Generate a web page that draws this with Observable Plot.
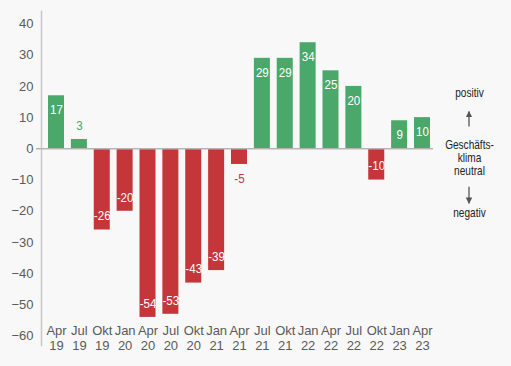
<!DOCTYPE html>
<html>
<head>
<meta charset="utf-8">
<script src="https://cdn.jsdelivr.net/npm/d3@7"></script>
<script src="https://cdn.jsdelivr.net/npm/@observablehq/plot@0.6"></script>
<style>
  html, body { margin: 0; padding: 0; background: #f8f8f8; }
  #chart svg { display: block; }
</style>
</head>
<body>
<div id="chart"></div>
<script>
const months = ["Apr","Jul","Okt","Jan","Apr","Jul","Okt","Jan","Apr","Jul","Okt","Jan","Apr","Jul","Okt","Jan","Apr"];
const years  = ["19","19","19","20","20","20","20","21","21","21","21","22","22","22","22","23","23"];
const values = [17, 3, -26, -20, -54, -53, -43, -39, -5, 29, 29, 34, 25, 20, -10, 9, 10];
const yTicks = [-60, -50, -40, -30, -20, -10, 0, 10, 20, 30, 40];

const GREEN = "#4aa86a";
const RED = "#c4363a";
const data = values.map((v, i) => ({
  key: i,
  label: months[i] + "\n" + years[i],
  value: v,
  inside: Math.abs(v) > 5
}));

const sans = "'Liberation Sans', Arial, sans-serif";
const annFont = { frameAnchor: "right", dx: 32, textAnchor: "middle", fill: "#222", fontFamily: sans, fontSize: 12 };
const lblFont = { fontFamily: sans, fontSize: 13.5 };

const plot = Plot.plot({
  width: 511,
  height: 366,
  marginLeft: 41,
  marginRight: 74,
  marginTop: 11,
  marginBottom: 21,
  style: { background: "#f8f8f8", fontFamily: sans, fontSize: "13px", color: "#5a5a5a" },
  x: { domain: data.map(d => d.key), paddingInner: 0.3, paddingOuter: 0.306, round: false, axis: null },
  y: { domain: [-63, 44], label: null },
  marks: [
    Plot.axisY({ ticks: yTicks, tickSize: 0, tickPadding: 8, fill: "#5a5a5a", fontSize: 13, label: null }),
    Plot.frame({ anchor: "left", stroke: "#c8c8c8", strokeWidth: 1.5 }),
    Plot.barY(data, { x: "key", y: "value", fill: d => d.value >= 0 ? GREEN : RED }),
    Plot.ruleY([0], { stroke: "#b5b5b5", strokeWidth: 1.5, insetLeft: -5, insetRight: 4 }),
    Plot.text(data.filter(d => d.inside && d.value >= 0), {
      ...lblFont, x: "key", y: "value", text: d => String(d.value), dy: 14, fill: "#ffffff"
    }),
    Plot.text(data.filter(d => d.inside && d.value < 0), {
      ...lblFont, x: "key", y: "value", text: d => String(d.value), dy: -14, fill: "#ffffff"
    }),
    Plot.text(data.filter(d => !d.inside && d.value >= 0), {
      ...lblFont, x: "key", y: "value", text: d => String(d.value), dy: -14, fill: GREEN
    }),
    Plot.text(data.filter(d => !d.inside && d.value < 0), {
      ...lblFont, x: "key", y: "value", text: d => String(d.value), dy: 14, fill: RED
    }),
    Plot.text(data, {
      x: "key", y: () => -60.6, text: "label",
      lineAnchor: "middle", lineHeight: 1.15, fill: "#5a5a5a", fontSize: 13
    }),
    Plot.text(["positiv"], { ...annFont, y: () => 17.7 }),
    Plot.text(["Geschäfts-\nklima\nneutral"], { ...annFont, y: () => -2.9, lineHeight: 1.1 }),
    Plot.text(["negativ"], { ...annFont, y: () => -20.7 })
  ]
});

document.getElementById("chart").appendChild(plot);

const svg = d3.select(plot);
const y = plot.scale("y");

// condense text horizontally around its own centre (emulates a narrow typeface)
function condense(node, k) {
  const b = node.getBBox(); // local coordinates, before the node's own transform
  const cx = b.x + b.width / 2;
  const t = node.getAttribute("transform") || "";
  node.setAttribute("transform", `${t} translate(${cx},0) scale(${k},1) translate(${-cx},0)`);
}
const textGroups = Array.from(plot.querySelectorAll("g[aria-label='text']"));
textGroups.slice(0, 4).forEach(g => Array.from(g.querySelectorAll("text")).forEach(n => condense(n, 0.86)));
textGroups.slice(5).forEach(g => Array.from(g.querySelectorAll("text")).forEach(n => condense(n, 0.84)));

// annotation arrows
const ax = 437 + 32;
const defs = svg.append("defs");
defs.append("marker").attr("id", "ah").attr("viewBox", "0 0 10 10").attr("refX", 9).attr("refY", 5)
  .attr("markerWidth", 5).attr("markerHeight", 6).attr("orient", "auto")
  .append("path").attr("d", "M0,0 L10,5 L0,10 z").attr("fill", "#555");
const arrows = [[7.0, 11.8], [-12.3, -17.6]];
arrows.forEach(([a, b]) => {
  svg.append("line").attr("x1", ax).attr("x2", ax)
    .attr("y1", y.apply(a)).attr("y2", y.apply(b))
    .attr("stroke", "#555").attr("stroke-width", 1.3).attr("marker-end", "url(#ah)");
});
</script>
</body>
</html>
